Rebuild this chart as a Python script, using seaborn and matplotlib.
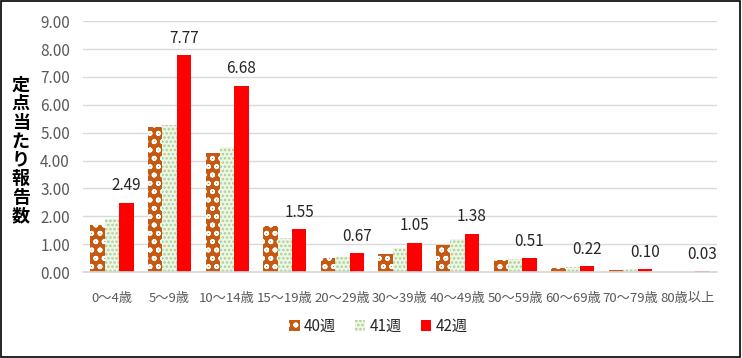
import matplotlib
matplotlib.use("Agg")
import matplotlib.pyplot as plt
from matplotlib.patches import Rectangle, Patch
import seaborn as sns
import pandas as pd

# data
ages = ["0～4歳", "5～9歳", "10～14歳", "15～19歳", "20～29歳", "30～39歳",
        "40～49歳", "50～59歳", "60～69歳", "70～79歳", "80歳以上"]
weeks = ["40週", "41週", "42週"]
w40 = [1.68, 5.20, 4.27, 1.65, 0.50, 0.65, 0.97, 0.43, 0.15, 0.07, 0.00]
w41 = [1.90, 5.27, 4.48, 1.22, 0.54, 0.86, 1.18, 0.47, 0.19, 0.10, 0.02]
w42 = [2.49, 7.77, 6.68, 1.55, 0.67, 1.05, 1.38, 0.51, 0.22, 0.10, 0.03]

df = pd.DataFrame({
    "age": ages * 3,
    "week": [weeks[0]] * len(ages) + [weeks[1]] * len(ages) + [weeks[2]] * len(ages),
    "value": w40 + w41 + w42,
})

sns.set_theme(style="white")
plt.rcParams["font.family"] = ["Noto Sans CJK JP", "DejaVu Sans"]
plt.rcParams["hatch.linewidth"] = 1.2

fig = plt.figure(figsize=(7.42, 3.58), dpi=100)
ax = fig.add_axes([0.112, 0.240, 0.854, 0.701])

face = ["#C65911", "#E2EFDA", "#FF0000"]
sns.barplot(data=df, x="age", y="value", hue="week", palette=face,
            width=0.75, gap=0.0, ax=ax, legend=False)

# pattern fills like the original chart
styles = [
    dict(facecolor="#C65911", edgecolor="white", hatch="oo"),
    dict(facecolor="#EEF6E8", edgecolor="#A9D08E", hatch="...."),
    dict(facecolor="#FF0000", edgecolor="#FF0000", hatch=None),
]
for cont, st in zip(ax.containers, styles):
    for bar in cont:
        bar.set_facecolor(st["facecolor"])
        bar.set_edgecolor(st["edgecolor"])
        bar.set_hatch(st["hatch"])
        bar.set_linewidth(0)

ax.bar_label(ax.containers[2], fmt="%.2f", padding=6, fontsize=11, color="#262626")

ax.set_ylim(0, 9)
ax.set_yticks(range(0, 10))
ax.set_yticklabels([f"{v:.2f}" for v in range(0, 10)], fontsize=11, color="#595959")
ax.tick_params(axis="x", labelsize=9.5, colors="#595959", pad=8)
ax.grid(axis="y", color="#D9D9D9", linewidth=1)
ax.set_axisbelow(True)
for s in ["top", "right", "left"]:
    ax.spines[s].set_visible(False)
ax.spines["bottom"].set_color("#D9D9D9")
ax.set_xlabel("")
ax.set_ylabel("")

fig.text(0.028, 0.58, "\n".join("定点当たり報告数"), ha="center", va="center",
         fontsize=13, fontweight="bold", linespacing=0.98, color="#000000")

handles = [Patch(facecolor=st["facecolor"], edgecolor=st["edgecolor"],
                 hatch=st["hatch"], linewidth=0) for st in styles]
fig.legend(handles, weeks, loc="center", bbox_to_anchor=(0.51, 0.088), ncol=3,
           frameon=False, fontsize=11, handlelength=0.7, handleheight=0.7,
           handletextpad=0.3, columnspacing=1.2)

fig.patches.append(Rectangle((0.002, 0.003), 0.995, 0.993, transform=fig.transFigure,
                             fill=False, edgecolor="black", linewidth=1.2))

fig.savefig("out.png", dpi=100)
